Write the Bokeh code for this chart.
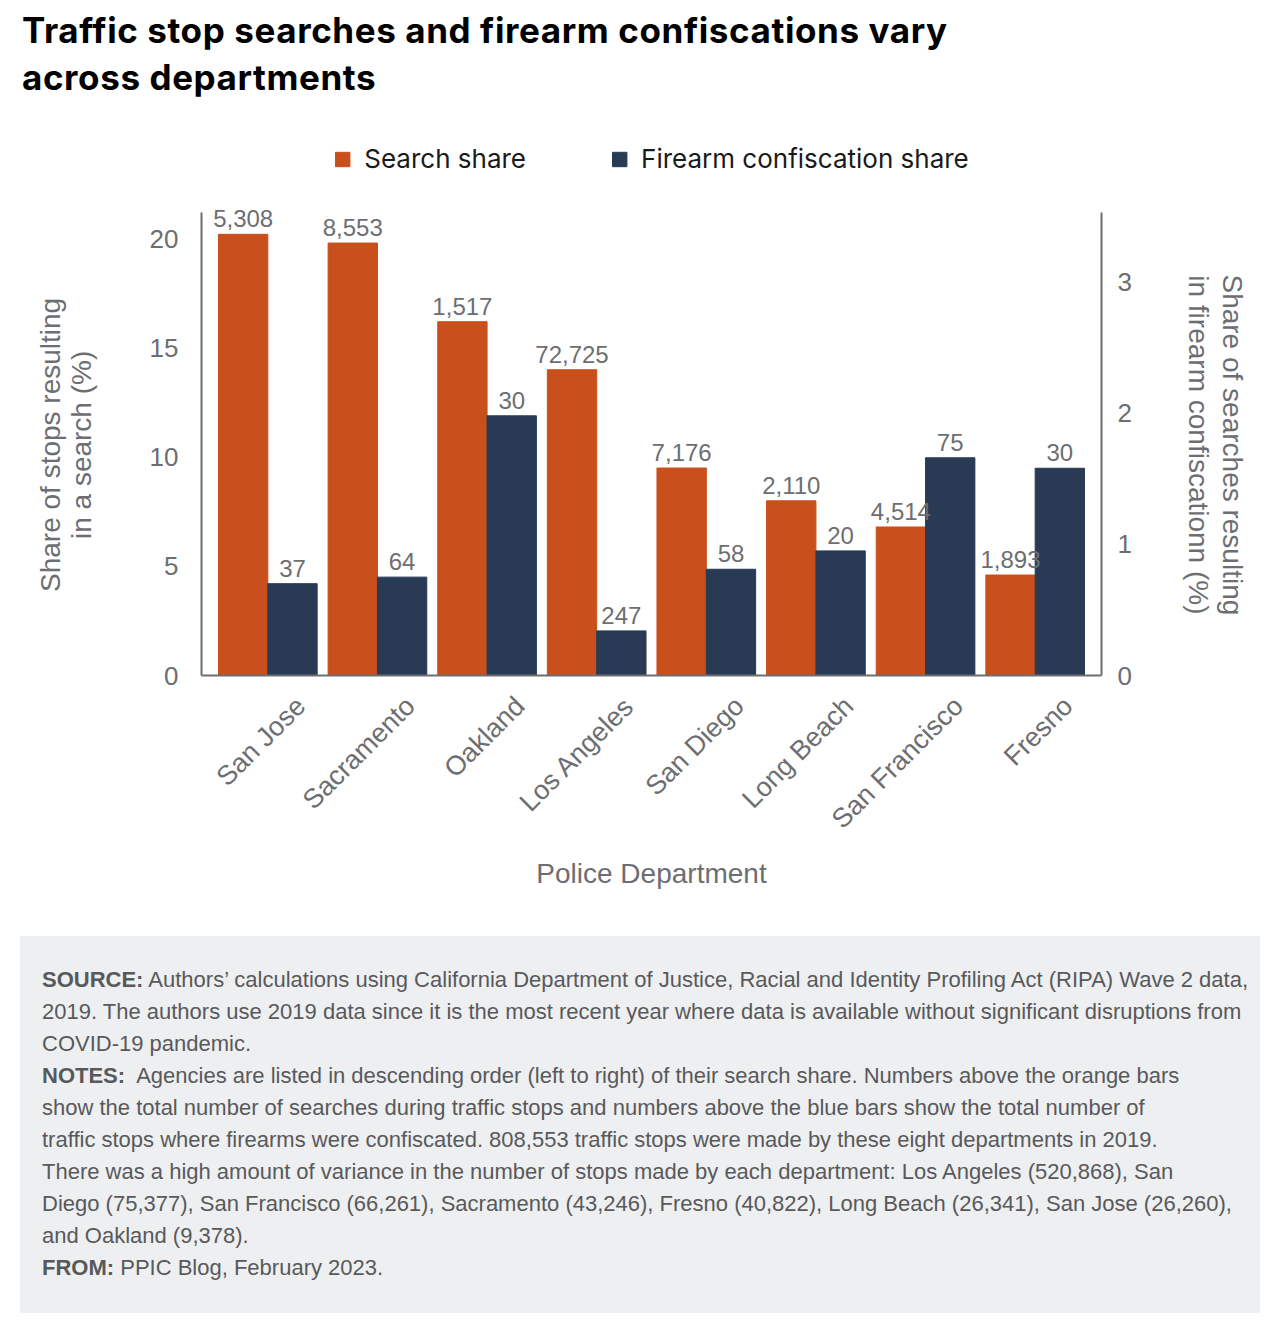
import math
import html
from bokeh.plotting import figure
from bokeh.models import (Range1d, LinearAxis, FixedTicker, ColumnDataSource,
                          LabelSet, Legend, LegendItem, Div)
from bokeh.layouts import column
from bokeh.transform import dodge
from bokeh.core.properties import value
from bokeh.embed import file_html
from bokeh.resources import INLINE

# ---------------- data ----------------
departments = ["San Jose", "Sacramento", "Oakland", "Los Angeles",
               "San Diego", "Long Beach", "San Francisco", "Fresno"]
search_share = [20.2, 19.8, 16.2, 14.0, 9.5, 8.0, 6.8, 4.6]          # % of stops
firearm_share = [0.70, 0.75, 1.98, 0.34, 0.81, 0.95, 1.66, 1.58]    # % of searches
search_counts = [5308, 8553, 1517, 72725, 7176, 2110, 4514, 1893]
firearm_counts = [37, 64, 30, 247, 58, 20, 75, 30]
left_ticks = [0, 5, 10, 15, 20]
right_ticks = [0, 1, 2, 3]

title_lines = ["Traffic stop searches and firearm confiscations vary",
               "across departments"]
left_title = ["Share of stops resulting", "in a search (%)"]
right_title = ["Share of searches resulting", "in firearm confiscationn (%)"]
# (bold head, text) per printed line of the notes box
note_rows = [
    ("SOURCE:", " Authors\u2019 calculations using California Department of Justice, Racial and Identity Profiling Act (RIPA) Wave 2 data,"),
    ("", "2019. The authors use 2019 data since it is the most recent year where data is available without significant disruptions from"),
    ("", "COVID-19 pandemic."),
    ("NOTES:", "  Agencies are listed in descending order (left to right) of their search share. Numbers above the orange bars"),
    ("", "show the total number of searches during traffic stops and numbers above the blue bars show the total number of"),
    ("", "traffic stops where firearms were confiscated. 808,553 traffic stops were made by these eight departments in 2019."),
    ("", "There was a high amount of variance in the number of stops made by each department: Los Angeles (520,868), San"),
    ("", "Diego (75,377), San Francisco (66,261), Sacramento (43,246), Fresno (40,822), Long Beach (26,341), San Jose (26,260),"),
    ("", "and Oakland (9,378)."),
    ("FROM:", " PPIC Blog, February 2023."),
]

ORANGE = "#c94f1c"
NAVY = "#283a54"
GREY = "#6d6e71"
NOTE_GREY = "#58595b"
SANS = "Liberation Sans"
TFONT = "Inter"

W = 1280

# ---------------- title (HTML block) ----------------
title_html = (
    f'<div style="font-family:{TFONT},sans-serif;font-weight:700;font-size:35px;'
    f'letter-spacing:0.6px;line-height:47px;color:#000;padding:7px 0 0 22px;'
    f'margin:0;white-space:nowrap;">'
    + "<br>".join(html.escape(t) for t in title_lines) + "</div>"
)
title_div = Div(text=title_html, width=W, height=104, margin=0)

# ---------------- main chart ----------------
src = ColumnDataSource(dict(
    x=list(range(len(departments))),
    search=search_share,
    firearm=firearm_share,
    sc=[f"{v:,}" for v in search_counts],
    fc=[f"{v:,}" for v in firearm_counts],
))

FRAME_H = 539           # frame reaches up above the axes to hold the legend
AXIS_H = 463            # visible height of the y axes
LEFT_MAX, RIGHT_MAX = 21.2, 3.53

p = figure(width=W, height=821,
           x_range=Range1d(-0.605, len(departments) - 1 + 0.605),
           y_range=Range1d(0, LEFT_MAX * FRAME_H / AXIS_H),
           output_backend="svg", toolbar_location=None,
           min_border_left=201, min_border_right=179,
           min_border_top=32, min_border_bottom=250, margin=0)
p.extra_y_ranges = {"right": Range1d(0, RIGHT_MAX * FRAME_H / AXIS_H)}
p.outline_line_color = None
p.grid.visible = False

r1 = p.vbar(x=dodge("x", -0.225), top="search", width=0.45, source=src,
            fill_color=ORANGE, line_color=ORANGE)
r2 = p.vbar(x=dodge("x", 0.225), top="firearm", width=0.45, source=src,
            fill_color=NAVY, line_color=NAVY, y_range_name="right")

lab_kw = dict(source=src, text_align="center", text_baseline="alphabetic",
              y_offset=7, text_font_size="24px", text_color=GREY,
              text_font=value(SANS))
p.add_layout(LabelSet(x=dodge("x", -0.225), y="search", text="sc", **lab_kw))
p.add_layout(LabelSet(x=dodge("x", 0.225), y="firearm", text="fc",
                      y_range_name="right", **lab_kw))

right_axis = LinearAxis(y_range_name="right")
p.add_layout(right_axis, "right")


def style_axis(ax):
    ax.axis_line_color = GREY
    ax.axis_line_width = 2
    ax.major_tick_line_color = None
    ax.minor_tick_line_color = None
    ax.major_label_text_color = GREY
    ax.major_label_text_font = SANS
    ax.major_label_text_font_size = "26px"
    ax.axis_label_text_font = SANS
    ax.axis_label_text_font_style = "normal"
    ax.axis_label_text_font_size = "28px"
    ax.axis_label_text_color = GREY


left_axis = p.yaxis[0]
bottom_axis = p.xaxis[0]
for ax in (left_axis, right_axis, bottom_axis):
    style_axis(ax)

# the frame is taller than the axes; non-breaking padding keeps each y-axis
# title centred on the visible axis line rather than on the whole frame
PAD = "\u00a0" * 10

left_axis.ticker = FixedTicker(ticks=left_ticks)
left_axis.bounds = (0, LEFT_MAX)
left_axis.major_label_standoff = 17
left_axis.axis_label = "\n".join(t + PAD for t in left_title)
left_axis.axis_label_standoff = 50
left_axis.axis_label_text_line_height = 1.0

right_axis.ticker = FixedTicker(ticks=right_ticks)
right_axis.bounds = (0, RIGHT_MAX)
right_axis.major_label_standoff = 10
right_axis.axis_label = "\n".join(PAD + t for t in right_title)
right_axis.axis_label_standoff = 48
right_axis.axis_label_text_line_height = 1.1

# rotated labels end slightly right of each group centre, as in the original
label_shift = 0.30
label_pos = [i + label_shift for i in range(len(departments))]
bottom_axis.ticker = FixedTicker(ticks=label_pos)
bottom_axis.major_label_overrides = {t: d for t, d in zip(label_pos, departments)}
bottom_axis.major_label_orientation = math.pi / 4
bottom_axis.major_label_text_font_size = "27px"
bottom_axis.major_label_standoff = 20
bottom_axis.axis_label = "Police Department"
bottom_axis.axis_label_standoff = 10

legend = Legend(items=[LegendItem(label="Search share", renderers=[r1]),
                       LegendItem(label="Firearm confiscation share", renderers=[r2])],
                orientation="horizontal", location="top_center",
                border_line_color=None, background_fill_alpha=0,
                glyph_width=18, glyph_height=18, label_standoff=13, spacing=84,
                label_text_font=TFONT, label_text_font_size="26px",
                label_text_color="#1a1a1a", padding=0, margin=7)
p.add_layout(legend, "center")

# ---------------- notes box (HTML block) ----------------
rows_html = []
for head, txt in note_rows:
    t = html.escape(txt).replace("  ", "&nbsp; ")
    rows_html.append((f"<b>{html.escape(head)}</b>" if head else "") + t)
notes_html = (
    f'<div style="margin:11px 0 0 20px;width:1240px;height:377px;box-sizing:border-box;'
    f'background:#eeeff1;padding:28px 0 0 22px;font-family:\'{SANS}\',Arial,sans-serif;'
    f'font-size:22px;line-height:32px;color:{NOTE_GREY};white-space:nowrap;overflow:hidden;">'
    + "<br>".join(rows_html) + "</div>"
)
notes_div = Div(text=notes_html, width=W, height=397, margin=0)

layout = column(title_div, p, notes_div, spacing=0)
open("out.html", "w").write(file_html(layout, INLINE))
